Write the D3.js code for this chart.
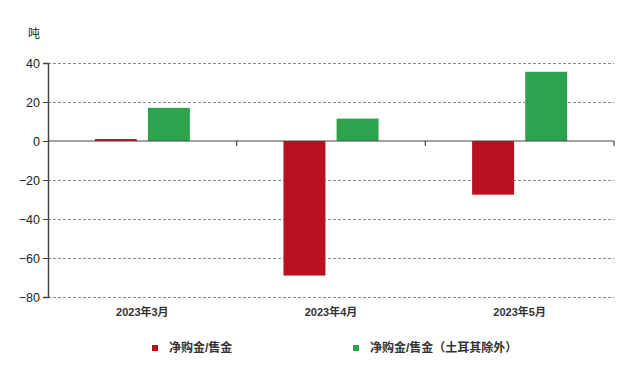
<!DOCTYPE html>
<html><head><meta charset="utf-8">
<script src="https://cdn.jsdelivr.net/npm/d3@7"></script>
<style>body{margin:0;background:#fff;}svg{display:block;font-family:"Liberation Sans","Noto Sans CJK SC",sans-serif;}</style>
</head><body><svg id="c" width="640" height="381"></svg>
<script>
const categories = ["2023年3月","2023年4月","2023年5月"];
const seriesNames = ["净购金/售金","净购金/售金（土耳其除外）"];
const netPurchase = [1, -69, -27.5];
const exTurkey = [17, 11.5, 35.5];
const yTicks = [40, 20, 0, -20, -40, -60, -80];
const unitLabel = "吨";
const colors = ["#b8101f", "#2ea34e"];

const svg = d3.select("#c");
const m = {l:48, r:614, t:63, b:297};
const y = d3.scaleLinear().domain([-80,40]).range([m.b, m.t]);
const x = d3.scaleBand().domain(categories).range([m.l, m.r]);
const bw = x.bandwidth();
const x1 = d3.scaleBand().domain([0,1]).range([bw*0.248, bw*0.752]).paddingInner(0.21);

// grid
svg.append("g").selectAll("line").data(yTicks.filter(d=>d!==0)).join("line")
  .attr("x1", m.l).attr("x2", m.r).attr("y1", d=>y(d)+0.5).attr("y2", d=>y(d)+0.5)
  .attr("stroke","#8a8a8a").attr("stroke-width",1).attr("stroke-dasharray","3,2");

// bars
const data = categories.map((c,i)=>({c, v:[netPurchase[i], exTurkey[i]]}));
const g = svg.append("g");
data.forEach(d=>{
  d.v.forEach((v,j)=>{
    g.append("rect")
      .attr("x", x(d.c)+x1(j)).attr("width", x1.bandwidth())
      .attr("y", y(Math.max(0,v))).attr("height", Math.abs(y(v)-y(0)))
      .attr("fill", colors[j]);
  });
});

// y axis
const ya = svg.append("g").attr("transform",`translate(${m.l},0)`)
  .call(d3.axisLeft(y).tickValues(yTicks).tickSize(5).tickPadding(3).tickFormat(d3.format("d")));
ya.select(".domain").attr("stroke","#444").attr("stroke-width",1.5);
ya.selectAll(".tick line").attr("stroke","#444");
ya.selectAll(".tick text").attr("font-size","12.5px").attr("fill","#222");

// zero line and x ticks
svg.append("line").attr("x1",m.l).attr("x2",m.r).attr("y1",y(0)).attr("y2",y(0)).attr("stroke","#444").attr("stroke-width",1.2);
svg.append("g").selectAll("line").data(categories).join("line")
  .attr("x1",d=>x(d)+bw).attr("x2",d=>x(d)+bw).attr("y1",y(0)).attr("y2",y(0)+5)
  .attr("stroke","#444").attr("stroke-width",1.2);

// x labels
svg.append("g").selectAll("text").data(categories).join("text")
  .attr("x",d=>x(d)+bw/2).attr("y",m.b+19).attr("text-anchor","middle")
  .attr("font-size","11px").attr("font-weight","bold").attr("fill","#333").text(d=>d);

// unit
svg.append("text").attr("x",28).attr("y",38).attr("font-size","12px").attr("fill","#222").text(unitLabel);

// legend
const lx = [152, 353];
seriesNames.forEach((n,i)=>{
  svg.append("rect").attr("x",lx[i]).attr("y",345).attr("width",6).attr("height",6).attr("fill",colors[i]);
  svg.append("text").attr("x",lx[i]+17).attr("y",352).attr("font-size","12px").attr("fill","#333").attr("font-weight","bold").text(n);
});
</script></body></html>
